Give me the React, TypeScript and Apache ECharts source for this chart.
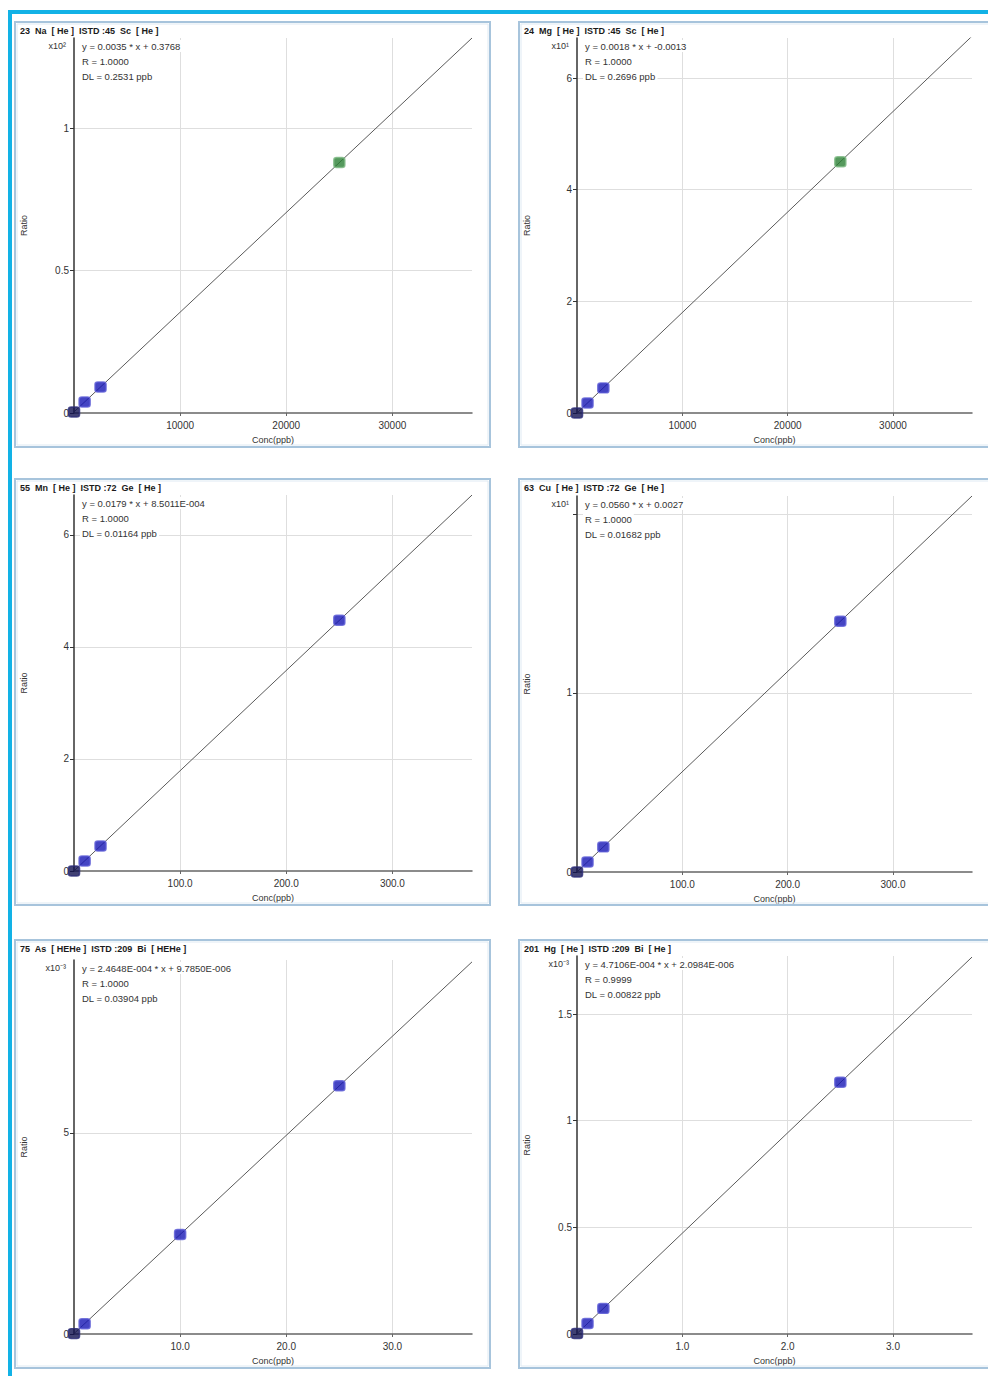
import React, { useEffect, useRef } from "react";
import * as echarts from "echarts";

// ---------- data (ratio values in displayed axis units) ----------
const naConc = [0, 1000, 2500, 25000];
const naRatio = [0.0038, 0.0388, 0.0913, 0.879];
const mgConc = [0, 1000, 2500, 25000];
const mgRatio = [0.0, 0.18, 0.45, 4.5];
const mnConc = [0, 10, 25, 250];
const mnRatio = [0.001, 0.18, 0.448, 4.476];
const cuConc = [0, 10, 25, 250];
const cuRatio = [0.0003, 0.0563, 0.1403, 1.4];
const asConc = [0, 1, 10, 25];
const asRatio = [0.0098, 0.256, 2.475, 6.172];
const hgConc = [0, 0.1, 0.25, 2.5];
const hgRatio = [0.002, 0.049, 0.12, 1.18];

// calibration-line end points
const naFitX = [0, 37500];
const naFitY = [0.0038, 1.316];
const mgFitX = [0, 37500];
const mgFitY = [0.0, 6.75];
const mnFitX = [0, 375];
const mnFitY = [0.001, 6.713];
const cuFitX = [0, 375];
const cuFitY = [0.0003, 2.1];
const asFitX = [0, 37.5];
const asFitY = [0.0098, 9.253];
const hgFitX = [0, 3.75];
const hgFitY = [0.002, 1.767];

// which point is the highlighted (green) standard, -1 = none
const highlight = [3, 3, -1, -1, -1, -1];

const titles = [
  "23  Na  [ He ]  ISTD :45  Sc  [ He ]",
  "24  Mg  [ He ]  ISTD :45  Sc  [ He ]",
  "55  Mn  [ He ]  ISTD :72  Ge  [ He ]",
  "63  Cu  [ He ]  ISTD :72  Ge  [ He ]",
  "75  As  [ HEHe ]  ISTD :209  Bi  [ HEHe ]",
  "201  Hg  [ He ]  ISTD :209  Bi  [ He ]",
];
const multipliers = ["x10\u00b2", "x10\u00b9", "", "x10\u00b9", "x10\u207b\u00b3", "x10\u207b\u00b3"];
const equations = [
  "y = 0.0035 * x + 0.3768",
  "y = 0.0018 * x + -0.0013",
  "y = 0.0179 * x + 8.5011E-004",
  "y = 0.0560 * x + 0.0027",
  "y = 2.4648E-004 * x + 9.7850E-006",
  "y = 4.7106E-004 * x + 2.0984E-006",
];
const rValues = ["R = 1.0000", "R = 1.0000", "R = 1.0000", "R = 1.0000", "R = 1.0000", "R = 0.9999"];
const dlValues = [
  "DL = 0.2531 ppb",
  "DL = 0.2696 ppb",
  "DL = 0.01164 ppb",
  "DL = 0.01682 ppb",
  "DL = 0.03904 ppb",
  "DL = 0.00822 ppb",
];
const xMaxes = [37500, 37500, 375, 375, 37.5, 3.75];
const yMaxes = [1.316, 6.717, 6.714, 2.1, 9.3, 1.772];
const xIntervals = [10000, 10000, 100, 100, 10, 1];
const yIntervals = [0.5, 2, 2, 1, 5, 0.5];
const yLabelTop = [1, 6, 6, 1, 5, 1.5];
const xDecimals = [0, 0, 1, 1, 1, 1];

const concs = [naConc, mgConc, mnConc, cuConc, asConc, hgConc];
const ratios = [naRatio, mgRatio, mnRatio, cuRatio, asRatio, hgRatio];
const fitXs = [naFitX, mgFitX, mnFitX, cuFitX, asFitX, hgFitX];
const fitYs = [naFitY, mgFitY, mnFitY, cuFitY, asFitY, hgFitY];

// ---------- layout ----------
const grids = [
  { left: 74, top: 38, width: 398, height: 375 },
  { left: 577, top: 38, width: 395, height: 375 },
  { left: 74, top: 495, width: 398, height: 376 },
  { left: 577, top: 496, width: 395, height: 376 },
  { left: 74, top: 960, width: 398, height: 374 },
  { left: 577, top: 956, width: 395, height: 378 },
];
const panels = [
  { x: 15, y: 22, w: 475, h: 425 },
  { x: 519, y: 22, w: 480, h: 425 },
  { x: 15, y: 479, w: 475, h: 426 },
  { x: 519, y: 479, w: 480, h: 426 },
  { x: 15, y: 940, w: 475, h: 428 },
  { x: 519, y: 940, w: 480, h: 428 },
];

const FONT = "Liberation Sans";

function buildOption() {
  const xAxis: any[] = [];
  const yAxis: any[] = [];
  const series: any[] = [];
  const graphic: any[] = [];

  graphic.push({ type: "rect", shape: { x: 8, y: 10, width: 980, height: 4 }, style: { fill: "#12b2e6" }, z: 10 });
  graphic.push({ type: "rect", shape: { x: 8, y: 10, width: 4, height: 1366 }, style: { fill: "#12b2e6" }, z: 10 });

  for (let i = 0; i < 6; i++) {
    const g = grids[i];
    const p = panels[i];
    const dec = xDecimals[i];
    const top = yLabelTop[i];
    xAxis.push({
      type: "value",
      gridIndex: i,
      min: 0,
      max: xMaxes[i],
      interval: xIntervals[i],
      name: "Conc(ppb)",
      nameLocation: "middle",
      nameGap: 22,
      nameTextStyle: { fontFamily: FONT, fontSize: 9, color: "#333" },
      axisLine: { show: true, onZero: false, lineStyle: { color: "#666", width: 1.5 } },
      axisTick: { show: true, length: 3, lineStyle: { color: "#666" } },
      axisLabel: {
        fontFamily: FONT,
        fontSize: 10,
        color: "#333",
        margin: 7,
        showMinLabel: false,
        showMaxLabel: false,
        formatter: (v: number) => v.toFixed(dec),
      },
      splitLine: { show: true, showMinLine: false, showMaxLine: false, lineStyle: { color: "#dedede", width: 1 } },
    });
    yAxis.push({
      type: "value",
      gridIndex: i,
      min: 0,
      max: yMaxes[i],
      interval: yIntervals[i],
      name: "Ratio",
      nameLocation: "middle",
      nameGap: 46,
      nameRotate: 90,
      nameTextStyle: { fontFamily: FONT, fontSize: 9, color: "#333" },
      axisLine: { show: true, onZero: false, lineStyle: { color: "#333", width: 1.5 } },
      axisTick: { show: true, length: 4, lineStyle: { color: "#333" } },
      axisLabel: {
        fontFamily: FONT,
        fontSize: 10,
        color: "#333",
        margin: 5,
        showMaxLabel: false,
        formatter: (v: number) => (v > top + 1e-9 ? "" : String(v)),
      },
      splitLine: { show: true, showMinLine: false, showMaxLine: false, lineStyle: { color: "#dedede", width: 1 } },
    });

    series.push({
      type: "line",
      xAxisIndex: i,
      yAxisIndex: i,
      data: fitXs[i].map((x, k) => [x, fitYs[i][k]]),
      symbol: "none",
      lineStyle: { color: "#5a5a5a", width: 1 },
      clip: true,
      silent: true,
      z: 2,
    });
    series.push({
      type: "scatter",
      xAxisIndex: i,
      yAxisIndex: i,
      data: concs[i].map((x, k) => {
        const isGreen = highlight[i] === k;
        const isOrigin = k === 0;
        return {
          value: [x, ratios[i][k]],
          itemStyle: {
            color: isGreen ? "#2a8034" : isOrigin ? "#121250" : "#1616b4",
            borderColor: isGreen ? "#7cb882" : isOrigin ? "#2c2c78" : "#5c5cd6",
            borderWidth: 1.5,
          },
        };
      }),
      symbol: "roundRect",
      symbolSize: [11, 10],
      clip: false,
      z: 3,
    });

    // panel frame
    graphic.push({
      type: "rect",
      shape: { x: p.x, y: p.y, width: p.w, height: p.h },
      style: { fill: "none", stroke: "#a7c4dc", lineWidth: 2 },
      z: 5,
    });
    graphic.push({
      type: "rect",
      shape: { x: p.x + 2, y: p.y + 2, width: p.w - 4, height: p.h - 4 },
      style: { fill: "none", stroke: "#dfeaf3", lineWidth: 1 },
      z: 5,
    });
    // title
    graphic.push({
      type: "text",
      x: p.x + 5,
      y: p.y + 9,
      style: {
        text: titles[i],
        fontFamily: FONT,
        fontSize: 9,
        fontWeight: "bold",
        fill: "#1a1a1a",
        verticalAlign: "middle",
      },
      z: 6,
    });
    // multiplier
    if (multipliers[i]) {
      graphic.push({
        type: "text",
        x: g.left - 8,
        y: g.top + 8,
        style: {
          text: multipliers[i],
          fontFamily: FONT,
          fontSize: 9,
          fill: "#333",
          align: "right",
          verticalAlign: "middle",
        },
        z: 6,
      });
    }
    // equation block
    const lines = [equations[i], rValues[i], dlValues[i]];
    lines.forEach((t, k) => {
      graphic.push({
        type: "text",
        x: g.left + 6,
        y: g.top + 8 + k * 15,
        style: {
          text: t,
          fontFamily: FONT,
          fontSize: 9.5,
          fill: "#333",
          verticalAlign: "middle",
          backgroundColor: "#ffffff",
          padding: [1, 2],
        },
        z: 6,
      });
    });
  }

  return {
    animation: false,
    backgroundColor: "#ffffff",
    textStyle: { fontFamily: FONT },
    grid: grids.map((g) => ({ ...g, containLabel: false })),
    xAxis,
    yAxis,
    series,
    graphic,
  };
}

export default function App() {
  const ref = useRef<HTMLDivElement>(null);
  useEffect(() => {
    if (!ref.current) return;
    const chart = echarts.init(ref.current, undefined, { renderer: "svg" });
    chart.setOption(buildOption() as any);
    return () => chart.dispose();
  }, []);
  return (
    <div
      ref={ref}
      style={{ position: "absolute", left: 0, top: 0, width: 988, height: 1376, overflow: "hidden", background: "#fff" }}
    />
  );
}
